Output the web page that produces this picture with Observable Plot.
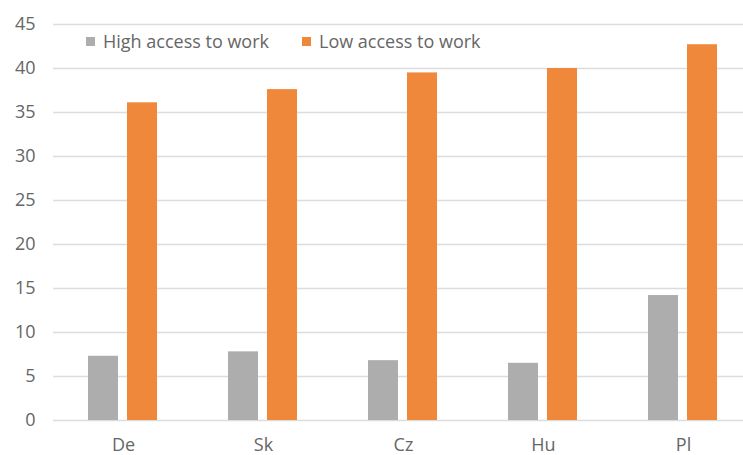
<!DOCTYPE html>
<html>
<head>
<meta charset="utf-8">
<script src="https://cdn.jsdelivr.net/npm/d3@7"></script>
<script src="https://cdn.jsdelivr.net/npm/@observablehq/plot@0.6"></script>
<style>
  body { margin: 0; overflow: hidden; background: #fff; font-family: "Open Sans", sans-serif; }
  #wrap { position: relative; width: 743px; height: 455px; overflow: hidden; }
  #legend { position: absolute; top: 29px; left: 86px; display: flex; font-size: 18px; color: #666; }
  .item { display: flex; align-items: center; }
  .sw { width: 9px; height: 9px; margin-right: 8px; }
</style>
</head>
<body>
<div id="wrap"></div>
<script>
const countries = ["De", "Sk", "Cz", "Hu", "Pl"];
const series = ["High access to work", "Low access to work"];
const highAccess = [7.3, 7.8, 6.8, 6.5, 14.2];
const lowAccess = [36.1, 37.6, 39.5, 40.0, 42.7];
const colors = ["#adadad", "#f0883c"];
const yTicks = [0, 5, 10, 15, 20, 25, 30, 35, 40, 45];

const data = [];
countries.forEach((c, i) => {
  data.push({country: c, series: series[0], value: highAccess[i]});
  data.push({country: c, series: series[1], value: lowAccess[i]});
});

const chart = Plot.plot({
  width: 743,
  height: 455,
  marginTop: 24,
  marginBottom: 35,
  marginLeft: 51,
  marginRight: -11,
  style: {fontFamily: "Open Sans, sans-serif", fontSize: "18px", color: "#666", background: "#fff"},
  fx: {domain: countries, paddingInner: 0, paddingOuter: 0, label: null},
  x: {domain: series, paddingInner: 0.225, paddingOuter: 0.87, axis: null},
  y: {domain: [0, 45], ticks: yTicks, label: null},
  color: {domain: series, range: colors},
  marks: [
    Plot.ruleY(yTicks, {stroke: "#dcdcdc", strokeWidth: 1.3}),
    Plot.barY(data, {fx: "country", x: "series", y: "value", fill: "series"}),
    Plot.axisY({ticks: yTicks, tickSize: 0, tickPadding: 18, label: null, fontSize: 18}),
    Plot.axisFx({tickSize: 0, tickPadding: 18, label: null, fontSize: 18, anchor: "bottom"})
  ]
});
document.getElementById("wrap").appendChild(chart);

const legend = document.createElement("div");
legend.id = "legend";
series.forEach((s, i) => {
  const it = document.createElement("div");
  it.className = "item";
  it.style.marginRight = i === 0 ? "33px" : "0";
  const sw = document.createElement("span");
  sw.className = "sw";
  sw.style.background = colors[i];
  const t = document.createElement("span");
  t.textContent = s;
  it.appendChild(sw); it.appendChild(t);
  legend.appendChild(it);
});
document.getElementById("wrap").appendChild(legend);
</script>
</body>
</html>
